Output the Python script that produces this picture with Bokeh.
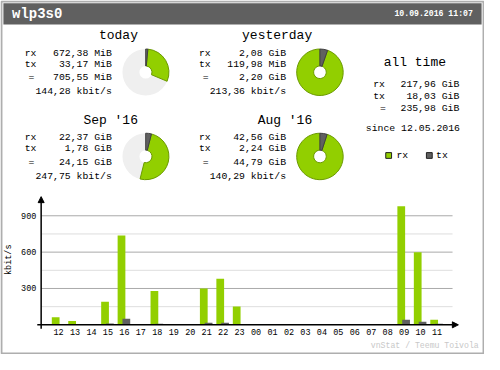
import math
from bokeh.plotting import figure
from bokeh.models import Range1d, ColumnDataSource, Arrow, NormalHead
from bokeh.core.properties import value
from bokeh.transform import dodge
from bokeh.embed import file_html
from bokeh.resources import INLINE

# ---------------- data ----------------
interface = "wlp3s0"
timestamp = "10.09.2016 11:07"

periods = ["today", "yesterday", "Sep '16", "Aug '16"]
rx_val = [672.38, 2.08, 22.37, 42.56]
rx_unit = ["MiB", "GiB", "GiB", "GiB"]
tx_val = [33.17, 119.98, 1.78, 2.24]
tx_unit = ["MiB", "MiB", "GiB", "GiB"]
total_val = [705.55, 2.20, 24.15, 44.79]
total_unit = ["MiB", "GiB", "GiB", "GiB"]
rate_kbit = [144.28, 213.36, 247.75, 140.29]

alltime_labels = ["rx", "tx", "="]
alltime_val = [217.96, 18.03, 235.98]
alltime_unit = ["GiB", "GiB", "GiB"]
since_date = "12.05.2016"

hours = ["12", "13", "14", "15", "16", "17", "18", "19", "20", "21", "22", "23",
         "00", "01", "02", "03", "04", "05", "06", "07", "08", "09", "10", "11"]
hourly_rx = [63, 32, 0, 190, 737, 0, 279, 0, 0, 300, 381, 152,
             0, 0, 0, 0, 0, 0, 0, 0, 0, 979, 598, 42]
hourly_tx = [0, 0, 0, 12, 50, 0, 10, 0, 0, 18, 18, 6,
             0, 0, 0, 0, 0, 0, 0, 0, 0, 42, 26, 9]
y_major = [300, 600, 900]
y_minor = [150, 450, 750]
legend_labels = ["rx", "tx"]

RX_COLOR = "#92cf00"
RX_EDGE = "#6b9a00"
TX_COLOR = "#606060"
TX_EDGE = "#404040"

# ---------------- layout ----------------
W, H = 500, 370
FW, FH = 484, 354
FONT = value("Liberation Mono")


def Y(y):
    return H - y


def fs(px):
    return value(f"{px * 0.962:.2f}px")


p = figure(width=FW, height=FH, x_range=Range1d(0, W), y_range=Range1d(0, H),
           output_backend="svg", toolbar_location=None,
           x_axis_location=None, y_axis_location=None, min_border=0,
           background_fill_color="white", border_fill_color="white",
           outline_line_color=None)
p.grid.visible = False

BASE_Y = 339
PX_PER_KBIT = 38 / 300
X0 = 60
SLOT = 17
p.extra_x_ranges = {"hr": Range1d(-X0 / SLOT, (W - X0) / SLOT)}
p.extra_y_ranges = {"kb": Range1d(-(H - BASE_Y) / PX_PER_KBIT, BASE_Y / PX_PER_KBIT)}


def txt(x, y, s, size, align="left", color="black", bold=False, angle=0, **kw):
    if not isinstance(s, list):
        s = [s]
    n = len(s)
    xs = x if isinstance(x, list) else [x] * n
    ys = y if isinstance(y, list) else [y] * n
    p.text(x=xs, y=ys, text=s, text_font=FONT, text_font_size=fs(size),
           text_align=align, text_baseline="middle", text_color=color,
           text_font_style="bold" if bold else "normal", angle=angle, **kw)


def fmt(v, u):
    return f"{v:.2f}".replace(".", ",") + " " + u


# frame and header
p.quad(left=1, right=W - 1, bottom=1, top=H - 1, fill_color="white",
       line_color="#aeaeae", line_width=2)
p.quad(left=3, right=W - 3, bottom=Y(25), top=Y(3), fill_color="#606060", line_color=None)
txt(12, Y(14), interface, 14.5, color="white", bold=True)
txt(488, Y(14), timestamp, 8.5, align="right", color="white", bold=True)

# ---------------- summary blocks ----------------
block_x = [25, 205, 25, 205]
block_y = [37, 37, 125, 125]
for i, name in enumerate(periods):
    bx, by = block_x[i], block_y[i]
    txt(bx + 117, Y(by), name, 13.5, align="right")
    txt(bx, [Y(by + 18), Y(by + 30)], ["rx", "tx"], 10.2)
    txt(bx + 7, Y(by + 44), "=", 10.2, align="center")
    txt(bx + 90, [Y(by + 18), Y(by + 30), Y(by + 44), Y(by + 58.5)],
        [fmt(rx_val[i], rx_unit[i]), fmt(tx_val[i], tx_unit[i]),
         fmt(total_val[i], total_unit[i]), fmt(rate_kbit[i], "kbit/s")],
        10.2, align="right")

# pies
unit_mib = {"MiB": 1.0, "GiB": 1024.0}
rx_mib = [v * unit_mib[u] for v, u in zip(rx_val, rx_unit)]
tx_mib = [v * unit_mib[u] for v, u in zip(tx_val, tx_unit)]
sum_mib = [a + b for a, b in zip(rx_mib, tx_mib)]
pair_max = [max(sum_mib[0], sum_mib[1])] * 2 + [max(sum_mib[2], sum_mib[3])] * 2
tx_frac = [t / m for t, m in zip(tx_mib, pair_max)]
tot_frac = [s / m for s, m in zip(sum_mib, pair_max)]
top = math.pi / 2
pie_src = ColumnDataSource(dict(
    x=[bx + 125 for bx in block_x],
    y=[Y(by + 38) for by in block_y],
    tx_start=[top - 2 * math.pi * f for f in tx_frac],
    tx_end=[top] * 4,
    rx_start=[top - 2 * math.pi * f for f in tot_frac],
    rx_end=[top - 2 * math.pi * f for f in tx_frac],
))
R_OUT, R_IN = 24, 6.5
p.annulus(x="x", y="y", inner_radius=R_IN, outer_radius=R_OUT, fill_color="#efefef",
          line_color=None, source=pie_src)
p.annular_wedge(x="x", y="y", inner_radius=R_IN, outer_radius=R_OUT,
                start_angle="rx_start", end_angle="rx_end", fill_color=RX_COLOR,
                line_color=RX_EDGE, line_width=1, source=pie_src)
p.annular_wedge(x="x", y="y", inner_radius=R_IN, outer_radius=R_OUT,
                start_angle="tx_start", end_angle="tx_end", fill_color=TX_COLOR,
                line_color=TX_EDGE, line_width=1, source=pie_src)

# all time block
txt(428, Y(65), "all time", 13.5, align="center")
at_y = [Y(88), Y(100), Y(113)]
txt([385, 385, 392], at_y, alltime_labels, 10.2, align="left")
txt(474, at_y, [fmt(v, u) for v, u in zip(alltime_val, alltime_unit)], 10.2, align="right")
txt(426, Y(134), "since " + since_date, 10.2, align="center")

# legend
p.rect(x=[401, 443], y=[Y(162)] * 2, width=6, height=6,
       fill_color=[RX_COLOR, TX_COLOR], line_color="#202020")
txt([409, 450], Y(162), legend_labels, 10.2)

# ---------------- hourly bar chart ----------------
p.segment(x0=42, x1=467, y0=y_minor, y1=y_minor, y_range_name="kb",
          line_color="#dedede", line_width=1)
p.segment(x0=42, x1=467, y0=y_major, y1=y_major, y_range_name="kb",
          line_color="#aaaaaa", line_width=1)

bar_src = ColumnDataSource(dict(idx=list(range(len(hours))), rx=hourly_rx, tx=hourly_tx))
p.vbar(x=dodge("idx", -3 / SLOT), top="rx", bottom=0, width=8 / SLOT,
       fill_color=RX_COLOR, line_color=None, x_range_name="hr", y_range_name="kb",
       source=bar_src)
p.vbar(x=dodge("idx", 2 / SLOT), top="tx", bottom=0, width=8 / SLOT,
       fill_color=TX_COLOR, line_color=None, x_range_name="hr", y_range_name="kb",
       source=bar_src)

txt(37, y_major, [str(v) for v in y_major], 8.8, align="right", y_range_name="kb")
txt(list(range(len(hours))), Y(347), hours, 8.8, align="center", x_range_name="hr")
txt(8.7, Y(271), "kbit/s", 8.8, align="center", angle=math.pi / 2)

p.add_layout(Arrow(end=NormalHead(size=6, fill_color="black", line_color="black", line_width=1),
                   x_start=42, y_start=Y(343), x_end=42, y_end=Y(205),
                   line_color="black", line_width=1.5))
p.add_layout(Arrow(end=NormalHead(size=6, fill_color="black", line_color="black", line_width=1),
                   x_start=38, y_start=Y(BASE_Y), x_end=473, y_end=Y(BASE_Y),
                   line_color="black", line_width=1.5))

txt(494, Y(361), "vnStat / Teemu Toivola", 8.5, align="right", color="#c8c8c8")

open("out.html", "w").write(file_html(p, INLINE))
